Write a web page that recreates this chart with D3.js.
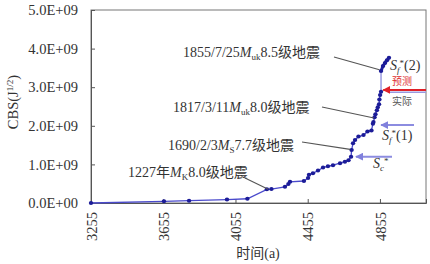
<!DOCTYPE html>
<html>
<head>
<meta charset="utf-8">
<script src="https://cdn.jsdelivr.net/npm/d3@7"></script>
<style>
body { margin: 0; background: #fff; }
text { font-family: "Liberation Serif", "Noto Sans CJK SC", serif; }
</style>
</head>
<body>
<div id="canvas"></div>
<script>
var w = 430;
var h = 264;

// cumulative Benioff strain, years on the shifted axis (year + 3000)
var years = [3255, 3659, 3798, 4008, 4121, 4229, 4254, 4329, 4348, 4357, 4434, 4457, 4462, 4484, 4512,
             4540, 4567, 4595, 4634, 4661, 4681, 4695, 4698, 4706, 4717, 4736, 4764, 4786, 4808, 4816,
             4819, 4825, 4830, 4838, 4843, 4850, 4852, 4856, 4861];
var values = [0, 0.044, 0.06, 0.09, 0.11, 0.355, 0.36, 0.42, 0.49, 0.55, 0.57, 0.65, 0.73, 0.77, 0.84,
              0.92, 0.95, 0.98, 1.03, 1.07, 1.11, 1.20, 1.37, 1.55, 1.63, 1.72, 1.76, 1.85, 1.88, 2.05,
              2.10, 2.22, 2.30, 2.40, 2.48, 2.56, 2.68, 2.80, 2.88];
// jump and after 1855
var jumpYears = [4861, 4861];
var jumpValues = [2.88, 3.42];
var tailYears = [4861, 4872, 4883, 4894, 4905];
var tailValues = [3.42, 3.55, 3.63, 3.70, 3.76];

var yTicks = [0, 1, 2, 3, 4, 5];
var xTicks = [3255, 3655, 4055, 4455, 4855];

var svg = d3.select("#canvas").append("svg")
	.attr("width", w)
	.attr("height", h)
	.style("background-color", "#fff");

var xScale = d3.scaleLinear().domain([3255, 5110]).range([91, 426]);
var yScale = d3.scaleLinear().domain([0, 5]).range([203, 10]);

//frame
svg.append("rect")
	.attr("x", 91).attr("y", 10)
	.attr("width", 335).attr("height", 193)
	.attr("fill", "none")
	.attr("stroke", "#777")
	.attr("stroke-width", 1);

var yAxis = svg.append("g")
	.attr("transform", "translate(91,0)")
	.call(d3.axisLeft(yScale).tickValues(yTicks).tickSize(-4).tickPadding(13)
		.tickFormat(function(d){ return d.toFixed(1) + (d == 0 ? "E+00" : "E+09"); }));
var xAxis = svg.append("g")
	.attr("transform", "translate(0,203)")
	.call(d3.axisBottom(xScale).tickValues(xTicks).tickSize(-4).tickFormat(d3.format("d")));

yAxis.attr("font-family", '"Liberation Serif", serif').attr("font-size", 14.5);
xAxis.attr("font-family", '"Liberation Serif", serif').attr("font-size", 14.5);
svg.selectAll(".domain").attr("stroke", "#555");
svg.selectAll(".tick line").attr("stroke", "#555");
svg.selectAll(".tick text")
	.attr("fill", "#333")
	.style("font-size", "14.5px")
	.style("font-family", '"Liberation Serif", serif');
xAxis.selectAll(".tick text")
	.attr("transform", "translate(0,9) rotate(-90)")
	.attr("text-anchor", "end")
	.attr("x", 0).attr("y", 0)
	.attr("dy", "0.35em");

//axis titles
var yTitle = svg.append("text")
	.attr("transform", "translate(18,102) rotate(-90)")
	.attr("text-anchor", "middle")
	.attr("fill", "#333")
	.style("font-size", "14.5px");
yTitle.append("tspan").text("CBS(J");
yTitle.append("tspan").attr("dy", "-5").style("font-size", "9px").text("1/2");
yTitle.append("tspan").attr("dy", "5").text(")");

svg.append("text")
	.attr("x", 258).attr("y", 258)
	.attr("text-anchor", "middle")
	.attr("fill", "#333")
	.style("font-size", "14px")
	.text("时间(a)");

//data lines
var line = d3.line()
	.x(function(d){ return xScale(d[0]); })
	.y(function(d){ return yScale(d[1]); });

var mainData = d3.zip(years, values);
var jumpData = d3.zip(jumpYears, jumpValues);
var tailData = d3.zip(tailYears, tailValues);

svg.append("path").datum(jumpData)
	.attr("d", line).attr("fill", "none")
	.attr("stroke", "#9a9ae0").attr("stroke-width", 1.5);

svg.append("path").datum(mainData)
	.attr("d", line).attr("fill", "none")
	.attr("stroke", "#4a4acc").attr("stroke-width", 1.3);
svg.append("path").datum(tailData)
	.attr("d", line).attr("fill", "none")
	.attr("stroke", "#2020a0").attr("stroke-width", 3);

svg.selectAll(".pt").data(mainData.concat(tailData))
	.join("ellipse")
	.attr("class", "pt")
	.attr("cx", function(d){ return xScale(d[0]); })
	.attr("cy", function(d){ return yScale(d[1]); })
	.attr("rx", 2.2).attr("ry", 2)
	.attr("fill", "#1c1c98");

//leader lines + labels
function label(x, y, main, sub, rest, ty, tv, sx, sy){
	var t = svg.append("text").attr("x", x).attr("y", y)
		.attr("fill", "#333").style("font-size", "14px");
	t.append("tspan").text(main);
	t.append("tspan").style("font-style", "italic").text("M");
	t.append("tspan").attr("dy", 3).style("font-size", "9px").text(sub);
	t.append("tspan").attr("dy", -3).text(rest);
	svg.append("line")
		.attr("x1", sx).attr("y1", sy)
		.attr("x2", xScale(ty)).attr("y2", yScale(tv))
		.attr("stroke", "#555").attr("stroke-width", 1.1);
}
label(183, 57, "1855/7/25", "uk", "8.5级地震", 4852, 3.45, 334, 57);
label(173, 112, "1817/3/11", "uk", "8.0级地震", 4822, 2.2, 322, 107);
label(168, 150, "1690/2/3", "S", "7.7级地震", 4690, 1.39, 302, 142);
label(128, 177, "1227年", "K", "8.0级地震", 4236, 0.355, 245, 178);

//arrows
var defs = svg.append("defs");
function marker(id, color){
	defs.append("marker").attr("id", id)
		.attr("viewBox", "0 0 10 10").attr("refX", 9).attr("refY", 5)
		.attr("markerWidth", 4).attr("markerHeight", 4)
		.attr("orient", "auto")
		.append("path").attr("d", "M0,0 L10,5 L0,10 z").attr("fill", color);
}
marker("arrBlue", "#8080dc");
marker("arrRed", "#e02028");

function arrow(ty, tv, x2, color, id){
	svg.append("line")
		.attr("x1", x2).attr("y1", yScale(tv))
		.attr("x2", xScale(ty) + 2).attr("y2", yScale(tv))
		.attr("stroke", color).attr("stroke-width", 2)
		.attr("marker-end", "url(#" + id + ")");
}
arrow(4711, 1.2, 392, "#8c8ce0", "arrBlue");
arrow(4850, 2.02, 414, "#8c8ce0", "arrBlue");
svg.append("line")
	.attr("x1", 388).attr("y1", yScale(2.87))
	.attr("x2", 426).attr("y2", yScale(2.87))
	.attr("stroke", "#9a9ae0").attr("stroke-width", 1.5);
arrow(4862, 2.93, 426, "#e02028", "arrRed");

function sLabel(x, y, sub, rest){
	var t = svg.append("text").attr("x", x).attr("y", y)
		.attr("fill", "#333").style("font-size", "14px");
	t.append("tspan").style("font-style", "italic").text("S");
	t.append("tspan").attr("dy", 3).style("font-size", "9px").style("font-style", "italic").text(sub);
	t.append("tspan").attr("dy", -7).style("font-size", "9px").text("*");
	t.append("tspan").attr("dy", 4).text(rest);
}
sLabel(390, 70, "f", "(2)");
sLabel(382, 140, "f", "(1)");
sLabel(373, 168, "c", "");

svg.append("text").attr("x", 402).attr("y", 85)
	.attr("text-anchor", "middle").attr("fill", "#e03030")
	.style("font-size", "10px").text("预测");
svg.append("text").attr("x", 402).attr("y", 105)
	.attr("text-anchor", "middle").attr("fill", "#555")
	.style("font-size", "10px").text("实际");
</script>
</body>
</html>
